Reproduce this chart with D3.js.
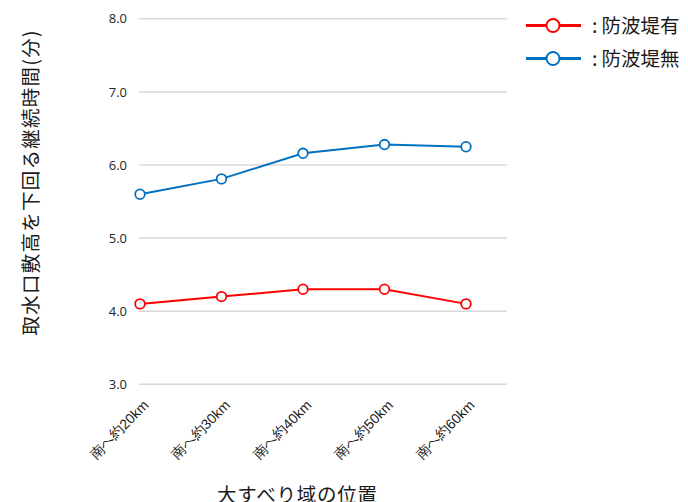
<!DOCTYPE html>
<html><head><meta charset="utf-8">
<script src="https://cdn.jsdelivr.net/npm/d3@7"></script>
<style>
html,body{margin:0;padding:0;background:#fff;}
svg{display:block;font-family:"Noto Sans CJK JP","Noto Sans",sans-serif;}
</style></head>
<body>
<svg id="chart" width="688" height="502"></svg>
<script>
const categories = ["南へ約20km","南へ約30km","南へ約40km","南へ約50km","南へ約60km"];
const withBreakwater = [4.1, 4.2, 4.3, 4.3, 4.1];
const withoutBreakwater = [5.6, 5.81, 6.16, 6.28, 6.25];
const yTicks = [3.0, 4.0, 5.0, 6.0, 7.0, 8.0];
const seriesNames = ["防波堤有", "防波堤無"];
const seriesColors = ["#ff0000", "#0070c0"];
const yTitle = "取水口敷高を下回る継続時間(分)";
const xTitle = "大すべり域の位置";

const svg = d3.select("#chart");
const x = d3.scalePoint().domain(categories).range([140, 466]);
const y = d3.scaleLinear().domain([3, 8]).range([384.3, 18.8]);
const gridRight = 507;

// gridlines
svg.append("g").selectAll("line").data(yTicks).join("line")
  .attr("x1", 139).attr("x2", gridRight)
  .attr("y1", d => y(d)).attr("y2", d => y(d))
  .attr("stroke", "#d9d9d9").attr("stroke-width", 1.5);

// y tick labels
const yAxis = d3.axisLeft(y).tickValues(yTicks).tickFormat(d3.format(".1f")).tickSize(0).tickPadding(0);
const ga = svg.append("g").attr("transform", "translate(127,0)").call(yAxis);
ga.select(".domain").remove();
ga.selectAll("text").attr("font-size", 13).attr("fill", "#262626")
  .attr("font-family", "'Open Sans','Noto Sans',sans-serif");

// x tick labels
const xAxis = d3.axisBottom(x).tickSize(0).tickPadding(0);
const gx = svg.append("g").attr("transform", "translate(0,384)").call(xAxis);
gx.select(".domain").remove();
gx.selectAll("text")
  .attr("font-size", 14).attr("fill", "#1a1a1a")
  .attr("text-anchor", "end")
  .attr("dy", null)
  .attr("transform", "translate(9,22) rotate(-45)");

// series
const series = [withBreakwater, withoutBreakwater];
const line = d3.line().x((d, i) => x(categories[i])).y(d => y(d));
series.forEach((vals, si) => {
  const g = svg.append("g");
  g.append("path").datum(vals).attr("d", line)
    .attr("fill", "none").attr("stroke", seriesColors[si]).attr("stroke-width", 2);
  g.selectAll("circle").data(vals).join("circle")
    .attr("cx", (d, i) => x(categories[i])).attr("cy", d => y(d)).attr("r", 4.8)
    .attr("fill", "#fff").attr("stroke", seriesColors[si]).attr("stroke-width", 1.8);
});

// legend
const leg = svg.append("g");
seriesNames.forEach((name, i) => {
  const ly = 25.5 + i * 33;
  leg.append("line").attr("x1", 526).attr("x2", 581).attr("y1", ly).attr("y2", ly)
    .attr("stroke", seriesColors[i]).attr("stroke-width", 3);
  leg.append("circle").attr("cx", 553).attr("cy", ly).attr("r", 6.5)
    .attr("fill", "#fff").attr("stroke", seriesColors[i]).attr("stroke-width", 2);
  const t = leg.append("text").attr("x", 592).attr("y", ly + 7).attr("font-size", 19.5)
    .attr("fill", "#1a1a1a");
  t.append("tspan").text(":");
  t.append("tspan").attr("dx", 4).text(name);
});

// axis titles
svg.append("text").attr("transform", "translate(38,183) rotate(-90)")
  .attr("text-anchor", "middle").attr("font-size", 19.5).attr("fill", "#1a1a1a")
  .attr("textLength", 305).attr("lengthAdjust", "spacing")
  .text(yTitle);
svg.append("text").attr("x", 297).attr("y", 502)
  .attr("text-anchor", "middle").attr("font-size", 19.5).attr("fill", "#1a1a1a")
  .attr("textLength", 160).attr("lengthAdjust", "spacing")
  .text(xTitle);
</script>
</body></html>
